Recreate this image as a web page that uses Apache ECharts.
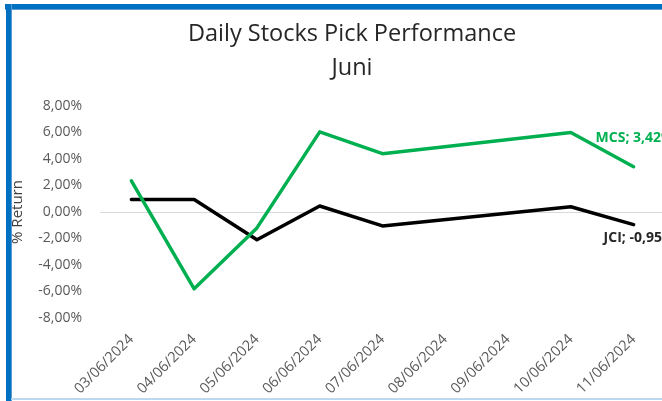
<!DOCTYPE html>
<html>
<head>
<meta charset="utf-8">
<script src="https://cdn.jsdelivr.net/npm/echarts@6/dist/echarts.min.js"></script>
<style>
  html, body { margin: 0; padding: 0; background: #ffffff; }
  #wrap { position: relative; width: 662px; height: 401px; overflow: hidden; background: #fff; }
  #bt { position: absolute; left: 5px; top: 4px; width: 657px; height: 5px; background: #0070C0; border-bottom: 1px solid #5b9bd5; }
  #bl { position: absolute; left: 6px; top: 4px; width: 5px; height: 397px; background: #0070C0; border-right: 1px solid #5b9bd5; }
  #bb { position: absolute; left: 11px; top: 398px; width: 651px; height: 2px; background: #BDD7EE; }
  #chart { position: absolute; left: 0; top: 0; width: 662px; height: 401px; }
</style>
</head>
<body>
<div id="wrap">
  <div id="chart"></div>
  <div id="bt"></div>
  <div id="bl"></div>
  <div id="bb"></div>
</div>
<script>
const titleText = "Daily Stocks Pick Performance";
const subtitleText = "Juni";
const yAxisName = "% Return";
const categories = ["03/06/2024","04/06/2024","05/06/2024","06/06/2024","07/06/2024","08/06/2024","09/06/2024","10/06/2024","11/06/2024"];
const mcsValues = [2.35, -5.8, -1.2, 6.05, 4.4, null, null, 6.0, 3.42];
const jciValues = [0.95, 0.95, -2.1, 0.45, -1.05, null, null, 0.4, -0.95];
const yTicks = { min: -8, max: 8, interval: 2 };
const mcsName = "MCS";
const jciName = "JCI";

function pct(v) { return v.toFixed(2).replace('.', ',') + '%'; }

const chart = echarts.init(document.getElementById('chart'), null, { renderer: 'canvas' });
const fontFam = "'Open Sans', sans-serif";
chart.setOption({
  animation: false,
  backgroundColor: '#ffffff',
  title: [
    { text: titleText, left: 347, top: 17, textAlign: 'center',
      textStyle: { fontFamily: fontFam, fontSize: 23.5, fontWeight: 'normal', color: '#262626' } },
    { text: subtitleText, left: 347, top: 51, textAlign: 'center',
      textStyle: { fontFamily: fontFam, fontSize: 23.5, fontWeight: 'normal', color: '#262626' } }
  ],
  grid: { left: 100, right: -3, top: 106, bottom: 83, containLabel: false, outerBoundsMode: 'none' },
  xAxis: {
    type: 'category',
    data: categories,
    boundaryGap: true,
    axisLine: { show: false },
    axisTick: { show: false },
    axisLabel: { rotate: 45, margin: 19, fontFamily: fontFam, fontSize: 14.5, color: '#595959', interval: 0 }
  },
  yAxis: {
    type: 'value',
    min: yTicks.min, max: yTicks.max, interval: yTicks.interval,
    name: yAxisName, nameLocation: 'middle', nameGap: 75, nameRotate: 90,
    nameTextStyle: { fontFamily: fontFam, fontSize: 15, color: '#404040' },
    axisLine: { show: false },
    axisTick: { show: false },
    splitLine: { show: false },
    axisLabel: { margin: 18, fontFamily: fontFam, fontSize: 14, color: '#595959', formatter: pct }
  },
  series: [
    {
      name: mcsName, type: 'line', data: mcsValues, connectNulls: true,
      showSymbol: false, symbol: 'none',
      lineStyle: { color: '#00B050', width: 3.5, cap: 'round', join: 'round' },
      itemStyle: { color: '#00B050' },
      markLine: {
        silent: true, symbol: 'none', label: { show: false },
        lineStyle: { color: '#d9d9d9', width: 1.2, type: 'solid' },
        data: [{ yAxis: 0 }], z: 1
      },
      endLabel: {
        show: true, offset: [-46, -29],
        formatter: p => mcsName + '; ' + pct(p.value),
        fontFamily: fontFam, fontSize: 14, fontWeight: 'bold', color: '#00B050'
      },
      z: 3
    },
    {
      name: jciName, type: 'line', data: jciValues, connectNulls: true,
      showSymbol: false, symbol: 'none',
      lineStyle: { color: '#000000', width: 3.5, cap: 'round', join: 'round' },
      itemStyle: { color: '#000000' },
      endLabel: {
        show: true, offset: [-38, 13],
        formatter: p => jciName + '; ' + pct(p.value),
        fontFamily: fontFam, fontSize: 14, fontWeight: 'bold', color: '#262626'
      },
      z: 2
    }
  ]
});
</script>
</body>
</html>
